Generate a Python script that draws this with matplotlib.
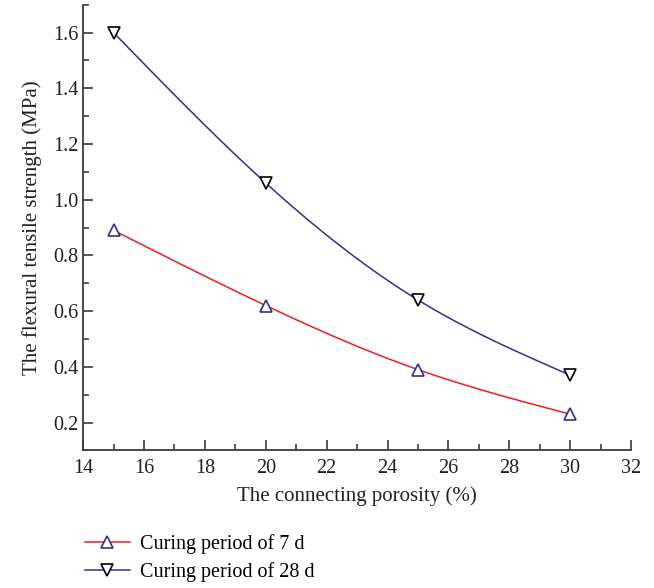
import numpy as np
import matplotlib.pyplot as plt
from matplotlib.ticker import MultipleLocator

porosity = [15, 20, 25, 30]
strength_7d = [0.89, 0.62, 0.39, 0.23]
strength_28d = [1.60, 1.06, 0.64, 0.37]
labels = ['Curing period of 7 d', 'Curing period of 28 d']


def spline(x, y, num=200):
    # natural cubic spline, like the smooth line Origin draws
    x = np.asarray(x, float)
    y = np.asarray(y, float)
    n = len(x)
    h = np.diff(x)
    A = np.zeros((n, n))
    b = np.zeros(n)
    A[0, 0] = A[-1, -1] = 1
    for i in range(1, n - 1):
        A[i, i - 1] = h[i - 1]
        A[i, i] = 2 * (h[i - 1] + h[i])
        A[i, i + 1] = h[i]
        b[i] = 6 * ((y[i + 1] - y[i]) / h[i] - (y[i] - y[i - 1]) / h[i - 1])
    M = np.linalg.solve(A, b)
    xs = np.linspace(x[0], x[-1], num)
    idx = np.clip(np.searchsorted(x, xs) - 1, 0, n - 2)
    x0, x1 = x[idx], x[idx + 1]
    hh = x1 - x0
    ys = (M[idx] * (x1 - xs) ** 3 / (6 * hh) + M[idx + 1] * (xs - x0) ** 3 / (6 * hh)
          + (y[idx] - M[idx] * hh ** 2 / 6) * (x1 - xs) / hh
          + (y[idx + 1] - M[idx + 1] * hh ** 2 / 6) * (xs - x0) / hh)
    return xs, ys


plt.rcParams['font.family'] = ['Liberation Serif', 'DejaVu Serif']

fig = plt.figure(figsize=(6.54, 5.88), dpi=100)
ax = fig.add_axes([0.127, 0.234, 0.838, 0.758])

red = '#ee1c25'
navy = '#2e3192'
txt = '#231f20'

xs, ys = spline(porosity, strength_7d)
ax.plot(xs, ys, color=red, lw=1.1)
ax.plot(porosity, strength_7d, ls='none', marker='^', ms=9, mfc='white', mec=navy, mew=1.2)
xs, ys = spline(porosity, strength_28d)
ax.plot(xs, ys, color=navy, lw=1.1)
ax.plot(porosity, strength_28d, ls='none', marker='v', ms=9, mfc='white', mec='black', mew=1.2)

ax.set_xlim(14, 32)
ax.set_ylim(0.1, 1.7)
ax.xaxis.set_major_locator(MultipleLocator(2))
ax.xaxis.set_minor_locator(MultipleLocator(1))
ax.yaxis.set_major_locator(MultipleLocator(0.2))
ax.yaxis.set_minor_locator(MultipleLocator(0.1))
ax.yaxis.set_major_formatter(plt.FormatStrFormatter('%.1f'))
for s in ['top', 'right']:
    ax.spines[s].set_visible(False)
for s in ['left', 'bottom']:
    ax.spines[s].set_color('#3a3a3a')
    ax.spines[s].set_linewidth(1.3)
ax.tick_params(which='both', direction='in', color='#3a3a3a', width=1.2,
               labelsize=14.5, labelcolor=txt)
ax.tick_params(which='major', length=7)
ax.tick_params(which='minor', length=4)
ax.tick_params(axis='x', pad=6)
ax.set_xlabel('The connecting porosity (%)', fontsize=15, color=txt, labelpad=6)
ax.set_ylabel('The flexural tensile strength (MPa)', fontsize=15, color=txt, labelpad=8)

h1, = ax.plot([], [], color=red, lw=1.1, marker='^', ms=8, mfc='white', mec=navy, mew=1.2)
h2, = ax.plot([], [], color=navy, lw=1.1, marker='v', ms=8, mfc='white', mec='black', mew=1.2)
fig.legend([h1, h2], labels, loc='upper left', bbox_to_anchor=(0.118, 0.105),
           frameon=False, fontsize=14.5, handlelength=2.2, handletextpad=0.5,
           labelspacing=0.4, borderaxespad=0)

fig.savefig('out.png')
